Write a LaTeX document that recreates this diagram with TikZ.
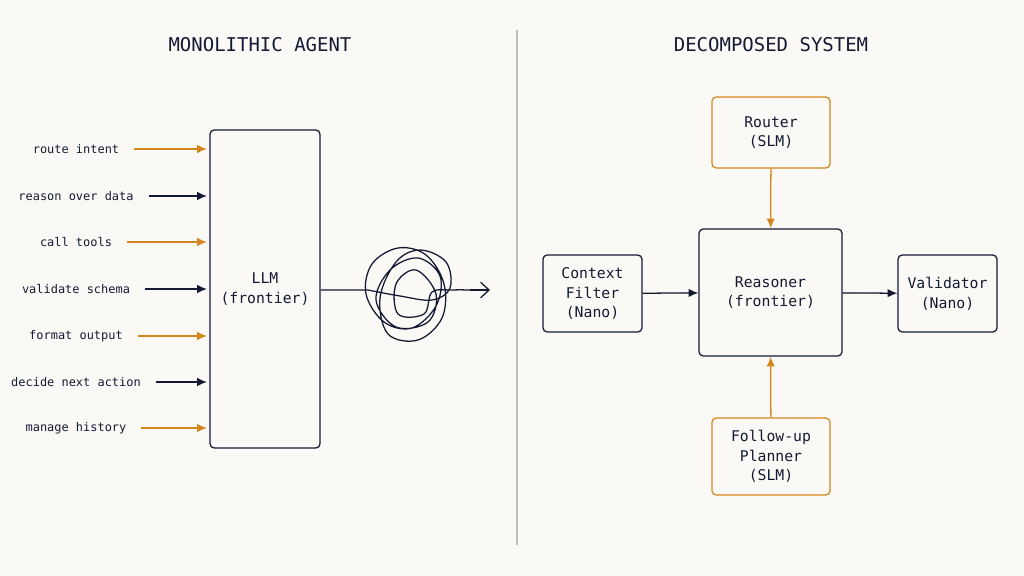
\documentclass[tikz,border=0pt]{standalone}
\usepackage{fontspec}
\setmainfont{DejaVu Sans Mono}
\usetikzlibrary{arrows.meta,positioning}
\definecolor{paper}{HTML}{FAF9F6}
\definecolor{navy}{HTML}{141A33}
\definecolor{amber}{HTML}{D4861E}
\begin{document}
\begin{tikzpicture}[x=0.025cm,y=-0.025cm,
    task/.style={font=\fontsize{8.5}{10}\selectfont, text=navy},
    block/.style={draw=navy, line width=0.9pt, rounded corners=3pt, align=center,
      font=\fontsize{10.5}{14}\selectfont, text=navy, inner sep=0pt},
    slm/.style={block, draw=amber},
    feed/.style={-{Latex[length=7pt,width=6pt]}, line width=0.9pt},
    title/.style={font=\fontsize{13.5}{16}\selectfont, text=navy}
]
    \fill[paper] (0,0) rectangle (1024,576);
    \useasboundingbox (0,0) rectangle (1024,576);

    % Titles and divider
    \node[title] (tleft) at (260,45) {MONOLITHIC AGENT};
    \node[title] (tright) at (771,45) {DECOMPOSED SYSTEM};
    \draw[gray!50, line width=0.8pt] (517,30) -- (517,545);

    % Monolithic side
    \node[block, minimum width=110*0.025cm, minimum height=318*0.025cm]
      (llm) at (265,289) {LLM\\(frontier)};
    \foreach \y/\txt/\col [count=\i] in {149/route intent/amber, 196/reason over data/navy,
        242/call tools/amber, 289/validate schema/navy, 336/format output/amber,
        382/decide next action/navy, 428/manage history/amber} {
        \node[task] (t\i) at (76,\y) {\txt};
        \coordinate (e\i) at (207,\y);
        \draw[feed, draw=\col, fill=\col] ([xshift=10*0.025cm]t\i.east) -- (e\i);
    }

    % Tangle
    \coordinate (knot) at (490,290);
    \draw[navy, line width=0.9pt] (llm.east |- knot) -- (368,290)
      plot[smooth, tension=0.6] coordinates {(368,290) (400,296) (432,300) (450,288)
        (446,262) (420,250) (396,262) (380,298) (388,334) (418,340) (442,318) (444,284)
        (426,255) (398,248) (372,264) (366,294) (384,322) (412,328) (436,306) (440,276)
        (418,258) (390,270) (376,300) (396,327) (428,322) (436,294) (416,270) (396,284)
        (398,314) (424,314) (432,292) (452,290) (470,290)};
    \draw[navy, line width=0.9pt, -{Straight Barb[length=6pt,width=11pt]}] (470,290) -- (knot);

    % Decomposed side
    \node[slm, minimum width=118*0.025cm, minimum height=71*0.025cm]
      (router) at (771,132.5) {Router\\(SLM)};
    \node[block, minimum width=143*0.025cm, minimum height=127*0.025cm]
      (reasoner) at (770.5,292.5) {Reasoner\\(frontier)};
    \node[block, minimum width=99*0.025cm, minimum height=77*0.025cm]
      (filter) at (592.5,293.5) {Context\\Filter\\(Nano)};
    \node[block, minimum width=99*0.025cm, minimum height=77*0.025cm]
      (validator) at (947.5,293.5) {Validator\\(Nano)};
    \node[slm, minimum width=118*0.025cm, minimum height=77*0.025cm]
      (planner) at (771,456.5) {Follow-up\\Planner\\(SLM)};

    \draw[feed, draw=amber, fill=amber] (router) -- (reasoner);
    \draw[feed, draw=amber, fill=amber] (planner) -- (reasoner);
    \draw[feed, draw=navy, fill=navy] (filter) -- (reasoner);
    \draw[feed, draw=navy, fill=navy] (reasoner) -- (validator);
\end{tikzpicture}
\end{document}
